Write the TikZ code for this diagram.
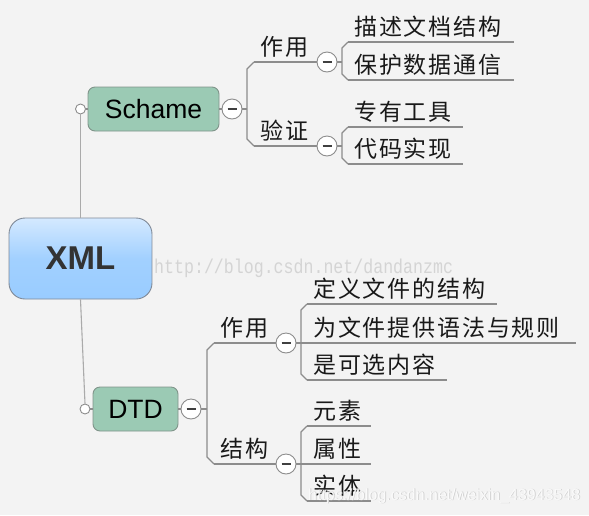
\documentclass[tikz,border=0pt]{standalone}
\usepackage{fontspec}
\setmainfont{Liberation Sans}
\newfontfamily\cjk[LetterSpace=8]{Noto Sans CJK SC}
\newfontfamily\wmmono[FakeStretch=0.83]{Liberation Mono}
\usetikzlibrary{calc}
\definecolor{bg}{RGB}{243,243,243}
\definecolor{ln}{RGB}{140,140,140}
\definecolor{ln2}{RGB}{170,170,170}
\definecolor{grn}{RGB}{155,202,180}
\definecolor{grnb}{RGB}{128,148,138}
\definecolor{xtop}{RGB}{212,233,255}
\definecolor{xbot}{RGB}{153,204,255}
\definecolor{xbd}{RGB}{128,138,152}
\definecolor{xtx}{RGB}{51,51,51}
\definecolor{wm}{RGB}{212,212,212}
\newcommand\ulbox[2]{\makebox[#1][l]{\hspace*{6pt}#2}}
\tikzset{
  conn/.style={draw=ln, line width=1.1pt},
  rootnode/.style={draw=xbd, line width=0.9pt, rounded corners=16pt,
    top color=xtop, bottom color=xbot, middle color=xbot!85!xtop,
    minimum width=143pt, minimum height=81pt, inner sep=0pt,
    font=\fontsize{33}{33}\selectfont\bfseries, text=xtx},
  mainnode/.style={draw=grnb, line width=0.9pt, rounded corners=7pt, fill=grn,
    minimum height=44pt, inner sep=0pt,
    font=\fontsize{26.5}{26.5}\selectfont, text=black},
  minusbtn/.style={circle, draw=ln, line width=0.9pt, fill=white,
    minimum size=20pt, inner sep=0pt,
    path picture={\draw[line width=1.8pt, draw=black!75]
      ([xshift=-4.5pt]path picture bounding box.center) --
      ([xshift=4.5pt]path picture bounding box.center);}},
  opendot/.style={circle, draw=ln, line width=0.9pt, fill=white,
    minimum size=10pt, inner sep=0pt},
  cjktext/.style={anchor=south west, inner sep=0pt, text height=18pt,
    text depth=6pt, font=\cjk\fontsize{23}{23}\selectfont, text=black!90},
}
\begin{document}
\begin{tikzpicture}[x=1pt,y=-1pt]
\fill[bg] (0,0) rectangle (589,515);
\useasboundingbox (0,0) rectangle (589,515);

% main nodes
\node[rootnode] (xml) at (80.5,258.5) {XML};
\node[mainnode, minimum width=131pt] (sch) at (153.5,109) {Schame};
\node[mainnode, minimum width=85pt] (dtd) at (135.5,409) {DTD};
\node[opendot] (sdot) at (80.5,109) {};
\node[opendot] (ddot) at (85,409) {};
\node[minusbtn] (sm) at (232,109) {};
\node[minusbtn] (dm) at (191,409) {};

% Schame topics
\node[cjktext] (zy1) at (254,62) {\ulbox{63pt}{作用}};
\node[minusbtn] (zy1m) at (327,62) {};
\node[cjktext] (yz) at (254,146) {\ulbox{63pt}{验证}};
\node[minusbtn] (yzm) at (327,146) {};

\node[cjktext] (a1) at (348,42) {\ulbox{166pt}{描述文档结构}};
\node[cjktext] (a2) at (348,80) {\ulbox{166pt}{保护数据通信}};
\node[cjktext] (b1) at (348,127) {\ulbox{115pt}{专有工具}};
\node[cjktext] (b2) at (348,164) {\ulbox{115pt}{代码实现}};

% DTD topics
\node[cjktext] (zy2) at (214,343) {\ulbox{62pt}{作用}};
\node[minusbtn] (zy2m) at (286,343) {};
\node[cjktext] (jg) at (214,464) {\ulbox{62pt}{结构}};
\node[minusbtn] (jgm) at (286,464) {};

\node[cjktext] (c1) at (307,304) {\ulbox{190pt}{定义文件的结构}};
\node[cjktext] (c2) at (307,343) {\ulbox{269pt}{为文件提供语法与规则}};
\node[cjktext] (c3) at (307,380) {\ulbox{140pt}{是可选内容}};
\node[cjktext] (d1) at (307,426) {\ulbox{64pt}{元素}};
\node[cjktext] (d2) at (307,464) {\ulbox{64pt}{属性}};
\node[cjktext] (d3) at (307,501) {\ulbox{64pt}{实体}};

% underlines
\foreach \n in {zy1,yz,a1,a2,b1,b2,zy2,jg,c1,c2,c3,d1,d2,d3}
  \draw[conn] (\n.south west) -- (\n.south east);

% root connectors
\draw[conn, draw=ln2] (xml.north) -- (sdot.south);
\draw[conn, draw=ln2] (xml.south) -- (ddot.north);
\draw[conn] (sdot.east) -- (sch.west);
\draw[conn] (ddot.east) -- (dtd.west);
\draw[conn] (sch.east) -- (sm.west);
\draw[conn] (dtd.east) -- (dm.west);

% Schame bracket
\coordinate (sbx) at ($(zy1.south west)+(-7,0)$);
\draw[conn] (sm.east) -- (sbx |- sm.east);
\draw[conn] (zy1.south west) -- ++(-7,7) -- ($(yz.south west)+(-7,-7)$) -- (yz.south west);

% leaf brackets (Schame)
\coordinate (abx) at ($(a1.south west)+(-6,0)$);
\draw[conn] (zy1m.east) -- (abx |- zy1m.east);
\draw[conn] (a1.south west) -- ++(-6,6) -- ($(a2.south west)+(-6,-6)$) -- (a2.south west);
\coordinate (bbx) at ($(b1.south west)+(-6,0)$);
\draw[conn] (yzm.east) -- (bbx |- yzm.east);
\draw[conn] (b1.south west) -- ++(-6,6) -- ($(b2.south west)+(-6,-6)$) -- (b2.south west);

% DTD bracket
\coordinate (dbx) at ($(zy2.south west)+(-7,0)$);
\draw[conn] (dm.east) -- (dbx |- dm.east);
\draw[conn] (zy2.south west) -- ++(-7,7) -- ($(jg.south west)+(-7,-7)$) -- (jg.south west);

% leaf brackets (DTD)
\draw[conn] (zy2m.east) -- (c2.south west);
\draw[conn] (c1.south west) -- ++(-6,6) -- ($(c3.south west)+(-6,-6)$) -- (c3.south west);
\draw[conn] (jgm.east) -- (d2.south west);
\draw[conn] (d1.south west) -- ++(-6,6) -- ($(d3.south west)+(-6,-6)$) -- (d3.south west);

% watermarks
\node[anchor=base west, inner sep=0pt, font=\wmmono\fontsize{20}{20}\selectfont, text=wm] (wm1) at (154,273) {http://blog.csdn.net/dandanzmc};
\node[anchor=base west, inner sep=0pt, font=\fontsize{16}{16}\selectfont, text=black!20] (wm2s) at (308.7,500.7) {https://blog.csdn.net/weixin\_43943548};
\node[anchor=base west, inner sep=0pt, font=\fontsize{16}{16}\selectfont, text=white, opacity=0.85] (wm2) at (308,500) {https://blog.csdn.net/weixin\_43943548};
\end{tikzpicture}
\end{document}
